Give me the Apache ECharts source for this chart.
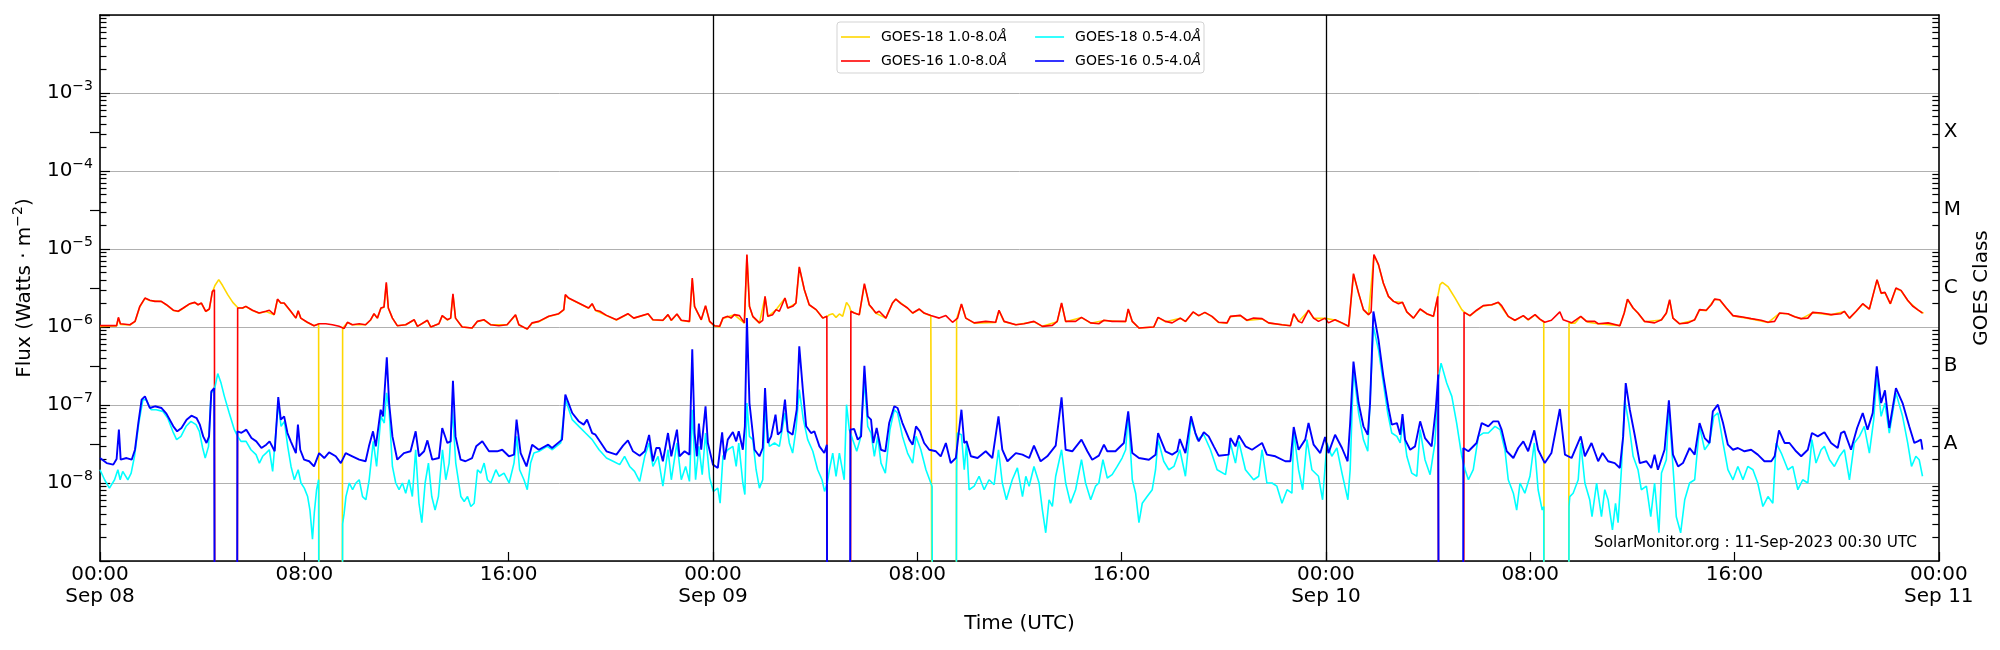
<!DOCTYPE html>
<html><head><meta charset="utf-8">
<script src="https://cdn.jsdelivr.net/npm/echarts/dist/echarts.min.js"></script>
<style>html,body{margin:0;padding:0;background:#fff}#c{width:2000px;height:650px}</style>
</head><body><div id="c"></div>
<script>
// ---- tick labels / categories ----
const dayLabels = ['Sep 08', 'Sep 09', 'Sep 10', 'Sep 11'];
const dayBoundaries = [24, 48];
const classLabels = ['A', 'B', 'C', 'M', 'X'];
const classExponents = [-7.5, -6.5, -5.5, -4.5, -3.5];
const seriesNames = ['GOES-18 1.0-8.0Å', 'GOES-16 1.0-8.0Å', 'GOES-18 0.5-4.0Å', 'GOES-16 0.5-4.0Å'];
// units of the value columns below (0 = data dropout)
const LONG_UNIT = 1e-6, SHORT_UNIT = 1e-8;

// [hours since Sep 08 00:00 UTC, flux / LONG_UNIT]
const g18Long = [[0,1.02],[0.65,1.03],[0.72,1.3],[0.8,1.08],[1.17,1.06],[1.37,1.17],[1.56,1.82],[1.76,2.33],[1.95,2.18],[2.4,2.12],[2.6,1.92],[2.87,1.63],[3.06,1.58],[3.26,1.74],[3.52,1.98],[3.71,2.06],[3.84,1.92],[3.97,2.02],[4.14,1.58],[4.28,1.69],[4.4,2.8],[4.5,3.4],[4.65,4.05],[4.8,3.4],[5.0,2.6],[5.2,2.07],[5.39,1.78],[5.58,1.74],[5.71,1.83],[5.97,1.63],[6.23,1.5],[6.5,1.58],[6.82,1.43],[6.95,2.25],[7.08,2.02],[7.21,2.02],[7.47,1.58],[7.67,1.3],[7.76,1.6],[7.86,1.3],[8.12,1.14],[8.38,1.04],[8.56,1.09],[8.58,0],[9.48,0],[9.5,0.96],[9.69,1.14],[9.88,1.07],[10.4,1.07],[10.6,1.23],[10.73,1.47],[10.86,1.3],[11.0,1.74],[11.12,1.79],[11.21,3.6],[11.29,1.74],[11.45,1.3],[11.64,1.04],[11.97,1.07],[12.3,1.23],[12.43,1.02],[12.82,1.21],[12.95,1.0],[13.27,1.1],[13.4,1.39],[13.6,1.23],[13.73,1.3],[13.82,2.6],[13.92,1.3],[14.18,1.0],[14.57,0.97],[14.77,1.17],[15.03,1.23],[15.29,1.07],[15.94,1.07],[16.27,1.42],[16.4,1.07],[16.73,0.94],[16.92,1.12],[17.18,1.17],[17.57,1.36],[17.96,1.47],[18.16,1.66],[18.22,2.55],[18.35,2.33],[18.74,2.02],[19.13,1.74],[19.27,1.97],[19.4,1.63],[19.83,1.4],[20.22,1.23],[20.67,1.47],[20.9,1.3],[21.46,1.47],[21.65,1.23],[22.04,1.21],[22.24,1.43],[22.37,1.21],[22.59,1.46],[22.76,1.21],[23.08,1.17],[23.19,4.1],[23.28,1.82],[23.41,1.5],[23.54,1.23],[23.71,1.86],[23.87,1.17],[24.06,1.03],[24.26,1.0],[24.39,1.29],[24.84,1.43],[25.23,1.12],[25.33,8.3],[25.43,1.82],[25.56,1.36],[25.82,1.12],[26.04,2.44],[26.15,1.36],[26.47,1.66],[26.82,2.33],[26.93,1.74],[27.25,2.02],[27.38,5.8],[27.58,2.98],[27.77,1.92],[28.04,1.66],[28.3,1.3],[28.48,1.37],[28.56,1.44],[28.69,1.48],[28.82,1.33],[28.95,1.47],[29.08,1.37],[29.23,2.07],[29.34,1.84],[29.4,1.59],[29.73,1.43],[29.93,3.5],[30.12,1.92],[30.38,1.5],[30.77,1.3],[31.03,2.02],[31.16,2.27],[31.62,1.74],[31.82,1.5],[32.08,1.69],[32.27,1.5],[32.53,1.39],[32.58,1.38],[32.6,0],[33.52,0],[33.54,1.28],[33.73,1.95],[33.9,1.3],[34.23,1.12],[35.07,1.14],[35.2,1.62],[35.4,1.17],[35.86,1.07],[36.57,1.17],[36.9,1.02],[37.48,1.17],[37.65,2.0],[37.81,1.17],[38.43,1.32],[38.79,1.12],[39.31,1.21],[40.16,1.17],[40.26,1.68],[40.42,1.17],[40.68,0.97],[41.26,1.0],[41.43,1.32],[41.72,1.17],[42.3,1.29],[42.5,1.17],[42.8,1.55],[43.02,1.39],[43.26,1.53],[43.54,1.36],[43.8,1.14],[44.13,1.12],[44.26,1.36],[44.65,1.4],[44.91,1.21],[45.5,1.27],[45.76,1.12],[46.61,1.04],[46.74,1.46],[46.93,1.17],[47.32,1.62],[47.52,1.29],[47.97,1.29],[48.36,1.23],[48.89,1.02],[49.08,4.7],[49.28,2.7],[49.47,1.66],[49.67,1.43],[49.88,8.3],[50.06,6.2],[50.25,3.62],[50.45,2.45],[50.65,2.12],[51.0,2.06],[51.17,1.55],[51.43,1.3],[51.69,1.69],[51.95,1.47],[52.21,1.36],[52.38,2.45],[52.47,3.49],[52.56,3.73],[52.79,3.26],[53.06,2.35],[53.32,1.67],[53.41,1.56],[53.64,1.39],[53.9,1.62],[54.16,1.86],[54.49,1.92],[54.75,2.06],[55.14,1.36],[55.4,1.21],[55.73,1.39],[55.92,1.23],[56.19,1.43],[56.38,1.25],[56.53,1.16],[56.55,0],[57.5,0],[57.52,1.13],[57.75,1.12],[57.98,1.36],[58.27,1.15],[58.66,1.1],[59.51,1.04],[59.68,1.5],[59.81,2.25],[60.03,1.74],[60.22,1.5],[60.48,1.17],[61.14,1.23],[61.33,1.5],[61.46,2.2],[61.59,1.3],[61.85,1.1],[62.44,1.23],[62.63,1.66],[62.89,1.62],[63.22,2.27],[63.42,2.22],[63.68,1.74],[63.94,1.39],[64.65,1.27],[65.31,1.14],[65.76,1.5],[66.09,1.47],[66.61,1.27],[67.06,1.53],[67.78,1.43],[68.3,1.58],[68.5,1.29],[68.76,1.58],[69.02,1.97],[69.28,1.69],[69.41,2.45],[69.58,4.0],[69.74,2.7],[69.89,2.75],[70.1,1.97],[70.32,3.1],[70.52,2.92],[70.78,2.18],[71.17,1.66],[71.4,1.5]];

const g16Long = [[0,1.04],[0.65,1.04],[0.72,1.33],[0.8,1.1],[1.17,1.07],[1.37,1.18],[1.56,1.84],[1.76,2.35],[1.95,2.2],[2.15,2.13],[2.4,2.13],[2.6,1.93],[2.87,1.64],[3.06,1.59],[3.26,1.75],[3.52,1.99],[3.71,2.07],[3.84,1.93],[3.97,2.03],[4.14,1.59],[4.28,1.7],[4.4,2.87],[4.48,3.0],[4.5,0],[5.37,0],[5.39,1.75],[5.58,1.75],[5.71,1.84],[5.97,1.64],[6.23,1.51],[6.5,1.59],[6.63,1.64],[6.82,1.44],[6.95,2.28],[7.08,2.03],[7.21,2.03],[7.47,1.59],[7.67,1.3],[7.76,1.62],[7.86,1.3],[8.12,1.15],[8.38,1.04],[8.58,1.1],[8.84,1.1],[9.1,1.07],[9.36,1.02],[9.56,0.96],[9.69,1.15],[9.88,1.07],[10.15,1.1],[10.4,1.07],[10.6,1.24],[10.73,1.48],[10.86,1.3],[11.0,1.75],[11.12,1.8],[11.21,3.73],[11.29,1.75],[11.45,1.3],[11.64,1.04],[11.97,1.07],[12.3,1.24],[12.43,1.02],[12.82,1.22],[12.95,1.0],[13.27,1.1],[13.4,1.4],[13.6,1.24],[13.73,1.3],[13.82,2.67],[13.92,1.3],[14.18,1.0],[14.57,0.97],[14.77,1.18],[15.03,1.24],[15.29,1.07],[15.62,1.04],[15.94,1.07],[16.27,1.44],[16.4,1.07],[16.73,0.94],[16.92,1.13],[17.18,1.18],[17.57,1.37],[17.96,1.48],[18.16,1.67],[18.22,2.6],[18.35,2.35],[18.74,2.03],[19.13,1.75],[19.27,1.99],[19.4,1.64],[19.57,1.59],[19.83,1.41],[20.22,1.24],[20.67,1.48],[20.9,1.3],[21.46,1.48],[21.65,1.24],[22.04,1.22],[22.24,1.44],[22.37,1.22],[22.59,1.47],[22.76,1.22],[23.08,1.18],[23.19,4.25],[23.28,1.84],[23.41,1.51],[23.54,1.24],[23.71,1.88],[23.87,1.18],[24.06,1.04],[24.26,1.02],[24.39,1.3],[24.58,1.37],[24.71,1.3],[24.84,1.44],[25.04,1.4],[25.23,1.13],[25.33,8.5],[25.43,1.84],[25.56,1.37],[25.82,1.13],[25.95,1.22],[26.04,2.47],[26.15,1.37],[26.34,1.44],[26.47,1.67],[26.6,1.59],[26.82,2.35],[26.93,1.75],[27.12,1.84],[27.25,2.03],[27.38,5.9],[27.58,3.0],[27.77,1.93],[28.04,1.67],[28.3,1.3],[28.46,1.37],[28.48,0],[29.38,0],[29.4,1.59],[29.53,1.51],[29.73,1.44],[29.93,3.6],[30.12,1.93],[30.25,1.72],[30.38,1.51],[30.51,1.59],[30.77,1.3],[31.03,2.03],[31.16,2.28],[31.36,1.99],[31.62,1.75],[31.82,1.51],[32.08,1.7],[32.27,1.51],[32.53,1.4],[32.86,1.3],[33.12,1.4],[33.38,1.15],[33.58,1.3],[33.73,1.97],[33.9,1.3],[34.23,1.13],[34.68,1.18],[35.07,1.15],[35.2,1.64],[35.4,1.18],[35.86,1.07],[36.18,1.1],[36.57,1.18],[36.9,1.02],[37.29,1.05],[37.48,1.18],[37.65,2.03],[37.81,1.18],[38.2,1.18],[38.43,1.33],[38.79,1.13],[39.11,1.1],[39.31,1.22],[39.63,1.18],[40.16,1.18],[40.26,1.7],[40.42,1.18],[40.68,0.97],[41.26,1.0],[41.43,1.33],[41.72,1.18],[41.98,1.13],[42.3,1.3],[42.5,1.18],[42.8,1.56],[43.02,1.4],[43.26,1.54],[43.54,1.37],[43.8,1.15],[44.13,1.13],[44.26,1.37],[44.65,1.41],[44.91,1.22],[45.17,1.3],[45.5,1.28],[45.76,1.13],[46.28,1.07],[46.61,1.04],[46.74,1.48],[46.93,1.18],[47.06,1.13],[47.32,1.64],[47.52,1.3],[47.71,1.18],[47.97,1.3],[48.1,1.13],[48.36,1.24],[48.63,1.13],[48.89,1.02],[49.08,4.83],[49.28,2.72],[49.47,1.67],[49.67,1.44],[49.77,1.56],[49.88,8.5],[50.06,6.3],[50.25,3.66],[50.45,2.47],[50.65,2.13],[50.84,1.99],[51.0,2.07],[51.17,1.56],[51.43,1.3],[51.69,1.7],[51.95,1.48],[52.21,1.37],[52.38,2.47],[52.42,2.6],[52.43,0],[53.39,0],[53.41,1.54],[53.64,1.4],[53.9,1.64],[54.16,1.88],[54.49,1.93],[54.75,2.07],[54.88,1.88],[55.14,1.37],[55.4,1.22],[55.73,1.4],[55.92,1.24],[56.19,1.44],[56.38,1.26],[56.57,1.15],[56.83,1.22],[57.16,1.56],[57.29,1.24],[57.62,1.13],[57.98,1.37],[58.2,1.18],[58.53,1.18],[58.66,1.1],[59.05,1.13],[59.51,1.04],[59.68,1.51],[59.81,2.28],[60.03,1.75],[60.22,1.51],[60.48,1.18],[60.87,1.13],[61.14,1.24],[61.33,1.51],[61.46,2.24],[61.59,1.3],[61.85,1.1],[62.18,1.13],[62.44,1.24],[62.63,1.67],[62.89,1.64],[63.09,1.93],[63.22,2.28],[63.42,2.24],[63.68,1.75],[63.94,1.4],[64.26,1.35],[64.65,1.28],[65.04,1.22],[65.31,1.15],[65.57,1.18],[65.76,1.51],[66.09,1.48],[66.35,1.35],[66.61,1.28],[66.87,1.3],[67.06,1.54],[67.39,1.51],[67.78,1.44],[68.17,1.48],[68.3,1.59],[68.5,1.3],[68.76,1.59],[69.02,1.99],[69.28,1.7],[69.41,2.47],[69.58,4.05],[69.74,2.72],[69.89,2.78],[70.1,1.99],[70.32,3.16],[70.52,2.95],[70.78,2.2],[70.97,1.86],[71.17,1.67],[71.36,1.51]];

// [hours, flux / SHORT_UNIT]
const g18Short = [[0,1.48],[0.18,1.1],[0.37,0.86],[0.57,1.1],[0.7,1.48],[0.79,1.1],[0.89,1.41],[1.09,1.1],[1.22,1.34],[1.35,2.2],[1.52,5.87],[1.68,11.7],[1.8,11.7],[2.0,8.7],[2.2,8.7],[2.46,8.28],[2.65,6.81],[2.85,4.6],[3.0,3.6],[3.17,3.96],[3.37,5.33],[3.56,6.17],[3.76,5.6],[3.89,4.6],[4.02,2.81],[4.12,2.09],[4.25,2.95],[4.35,14.3],[4.48,15.7],[4.61,25.3],[4.74,19.1],[4.87,12.9],[5.06,7.9],[5.26,4.83],[5.39,3.96],[5.52,3.42],[5.72,3.42],[5.91,2.67],[6.11,2.31],[6.24,1.8],[6.37,2.2],[6.5,2.42],[6.63,2.67],[6.76,1.41],[6.98,10.6],[7.09,5.33],[7.22,6.17],[7.35,2.95],[7.48,1.63],[7.61,1.1],[7.76,1.48],[7.87,1.0],[8.0,0.86],[8.13,0.67],[8.22,0.45],[8.32,0.19],[8.39,0.41],[8.48,0.82],[8.56,1.1],[8.58,0],[9.48,0],[9.5,0.3],[9.56,0.41],[9.63,0.67],[9.76,1.0],[9.89,0.82],[10.02,1.0],[10.15,1.1],[10.28,0.67],[10.41,0.61],[10.54,1.1],[10.7,3.42],[10.83,1.63],[11.0,7.16],[11.13,5.87],[11.22,14.3],[11.32,8.7],[11.45,1.63],[11.58,1.0],[11.71,0.82],[11.84,1.0],[11.97,0.74],[12.1,1.1],[12.23,0.67],[12.36,2.67],[12.49,0.55],[12.6,0.31],[12.73,1.0],[12.86,1.8],[12.99,0.67],[13.12,0.45],[13.25,0.67],[13.41,2.67],[13.54,1.1],[13.67,1.8],[13.8,8.7],[13.93,1.8],[14.13,0.67],[14.26,0.58],[14.39,0.67],[14.52,0.5],[14.65,0.55],[14.78,1.48],[14.91,1.34],[15.04,1.8],[15.17,1.1],[15.3,1.0],[15.5,1.48],[15.63,1.22],[15.82,1.34],[16.02,1.0],[16.21,1.8],[16.32,3.96],[16.43,1.48],[16.6,1.1],[16.73,0.82],[16.86,1.8],[16.99,2.42],[17.19,2.55],[17.51,2.95],[17.71,2.67],[18.04,3.26],[18.23,11.7],[18.49,6.49],[18.75,5.33],[19.01,4.37],[19.27,3.6],[19.54,2.67],[19.83,2.09],[20.09,1.9],[20.35,1.72],[20.54,2.2],[20.74,1.63],[20.93,1.41],[21.13,1.05],[21.33,2.2],[21.5,3.26],[21.65,1.63],[21.85,2.2],[22.04,0.91],[22.24,2.67],[22.37,1.1],[22.59,3.26],[22.76,1.1],[22.93,1.63],[23.08,1.05],[23.19,8.7],[23.32,1.1],[23.45,2.95],[23.58,1.28],[23.71,4.37],[23.87,1.16],[24.02,0.78],[24.19,0.86],[24.28,0.55],[24.39,2.2],[24.58,2.67],[24.78,2.95],[24.91,1.63],[25.01,3.26],[25.17,1.0],[25.25,0.71],[25.33,10.6],[25.43,3.96],[25.56,3.6],[25.69,1.48],[25.82,0.86],[25.95,1.1],[26.04,8.7],[26.21,2.95],[26.41,3.26],[26.6,2.95],[26.82,7.9],[26.99,3.26],[27.12,2.42],[27.25,4.83],[27.38,15.7],[27.54,6.49],[27.71,3.6],[27.91,2.55],[28.1,1.48],[28.27,1.1],[28.37,0.78],[28.48,1.0],[28.56,1.48],[28.69,2.42],[28.82,1.22],[28.95,2.42],[29.14,1.1],[29.23,10.1],[29.34,4.83],[29.47,3.6],[29.63,2.55],[29.76,3.6],[29.93,20.1],[30.06,5.33],[30.19,4.37],[30.32,2.2],[30.45,3.96],[30.58,1.8],[30.75,1.34],[30.93,4.83],[31.1,8.7],[31.23,7.9],[31.42,3.96],[31.62,2.42],[31.82,1.8],[31.95,3.96],[32.14,2.67],[32.34,1.48],[32.53,1.0],[32.58,0.9],[32.6,0],[33.52,0],[33.54,1.5],[33.57,4.37],[33.73,4.16],[33.84,1.48],[33.93,3.26],[34.03,0.82],[34.23,0.91],[34.42,1.22],[34.62,0.82],[34.81,1.1],[35.01,0.95],[35.18,2.67],[35.33,1.0],[35.49,0.61],[35.72,1.1],[35.92,1.56],[36.12,0.67],[36.25,1.22],[36.38,0.91],[36.57,1.63],[36.77,1.0],[36.9,0.45],[37.03,0.23],[37.16,0.61],[37.29,0.5],[37.42,1.22],[37.65,2.67],[37.81,1.0],[38.0,0.55],[38.2,0.82],[38.43,1.99],[38.59,1.0],[38.79,0.61],[38.98,0.91],[39.11,1.0],[39.27,1.99],[39.44,1.16],[39.63,1.28],[39.83,1.63],[40.02,2.09],[40.16,2.67],[40.26,7.9],[40.42,1.1],[40.55,0.74],[40.68,0.31],[40.81,0.55],[41.0,0.67],[41.2,0.82],[41.33,1.48],[41.43,3.6],[41.65,1.9],[41.85,1.48],[42.05,1.63],[42.28,2.67],[42.5,1.22],[42.72,6.49],[42.96,3.6],[43.22,4.16],[43.48,2.67],[43.74,1.48],[44.07,1.28],[44.26,3.26],[44.46,1.8],[44.59,3.42],[44.85,1.48],[45.17,1.1],[45.37,1.22],[45.5,2.67],[45.69,1.0],[45.89,1.0],[46.08,0.91],[46.28,0.55],[46.48,0.82],[46.67,0.74],[46.74,4.6],[46.93,1.48],[47.09,0.82],[47.26,3.6],[47.45,1.48],[47.71,1.22],[47.87,0.61],[48.04,3.26],[48.23,2.2],[48.43,2.81],[48.63,1.34],[48.86,0.61],[48.95,1.48],[49.08,28.3],[49.28,7.9],[49.47,3.6],[49.64,2.55],[49.86,101],[50.06,51],[50.25,19.1],[50.42,7.9],[50.58,4.37],[50.78,3.96],[50.91,3.26],[51.0,5.87],[51.17,2.2],[51.36,1.34],[51.56,1.22],[51.69,4.83],[51.88,1.99],[52.08,1.28],[52.27,3.26],[52.4,21.1],[52.51,34.4],[52.73,19.1],[52.93,12.9],[53.12,5.87],[53.32,2.2],[53.45,1.48],[53.58,1.1],[53.77,1.48],[53.97,3.96],[54.16,4.37],[54.36,4.37],[54.62,5.33],[54.82,4.83],[55.01,2.67],[55.14,1.1],[55.34,0.74],[55.47,0.45],[55.6,1.0],[55.79,0.74],[55.99,1.22],[56.16,3.26],[56.31,0.82],[56.47,0.45],[56.53,0.5],[56.55,0],[57.5,0],[57.52,0.5],[57.55,0.67],[57.68,0.74],[57.88,1.1],[57.98,3.26],[58.14,1.0],[58.33,0.61],[58.42,0.37],[58.6,1.0],[58.79,0.37],[58.92,0.82],[59.05,0.61],[59.22,0.25],[59.34,0.55],[59.44,0.31],[59.57,1.48],[59.7,11.7],[59.86,5.87],[60.03,2.2],[60.22,1.48],[60.35,0.82],[60.55,0.91],[60.72,0.37],[60.87,1.0],[61.04,0.23],[61.14,1.34],[61.33,1.99],[61.43,9.63],[61.59,1.63],[61.72,0.37],[61.89,0.23],[62.05,0.61],[62.24,1.0],[62.44,1.1],[62.63,5.33],[62.83,2.67],[63.02,3.26],[63.19,7.16],[63.35,7.9],[63.55,3.26],[63.74,1.48],[63.94,1.1],[64.13,1.63],[64.33,1.1],[64.52,1.63],[64.72,1.48],[64.91,1.0],[65.11,0.5],[65.31,0.67],[65.5,0.55],[65.63,3.26],[65.83,2.42],[66.09,1.48],[66.28,1.63],[66.48,0.82],[66.67,1.1],[66.87,1.0],[67.03,3.6],[67.19,1.8],[67.39,2.67],[67.52,2.95],[67.72,1.99],[67.91,1.63],[68.11,2.2],[68.3,2.67],[68.5,1.1],[68.69,3.26],[68.89,3.96],[69.08,5.33],[69.28,2.42],[69.45,6.49],[69.57,23.3],[69.74,7.16],[69.89,10.6],[70.06,4.37],[70.32,14.3],[70.58,7.16],[70.78,3.26],[70.93,1.63],[71.1,2.2],[71.23,1.99],[71.36,1.22]];

const g16Short = [[0,2.09],[0.26,1.8],[0.52,1.72],[0.65,2.03],[0.74,4.83],[0.81,1.99],[1.04,2.09],[1.24,1.99],[1.37,2.67],[1.5,5.87],[1.63,11.7],[1.76,12.9],[1.95,9.15],[2.15,9.63],[2.41,9.15],[2.6,7.75],[2.87,5.33],[3.02,4.6],[3.19,5.07],[3.39,6.49],[3.58,7.3],[3.78,6.81],[3.91,5.6],[4.04,3.96],[4.17,3.26],[4.27,3.96],[4.36,15.0],[4.47,16.5],[4.5,0],[5.36,0],[5.38,4.6],[5.54,4.4],[5.73,4.83],[5.93,3.77],[6.12,3.42],[6.32,2.81],[6.51,3.1],[6.64,3.42],[6.84,2.55],[6.98,12.6],[7.08,6.49],[7.21,7.16],[7.34,4.37],[7.47,3.42],[7.67,2.42],[7.75,5.6],[7.84,2.67],[7.99,1.99],[8.19,1.9],[8.38,1.63],[8.58,2.42],[8.78,2.09],[8.97,2.47],[9.23,2.2],[9.43,1.8],[9.62,2.42],[9.88,2.2],[10.15,1.99],[10.4,1.9],[10.53,2.95],[10.69,4.6],[10.8,2.95],[10.99,8.7],[11.08,7.16],[11.23,41],[11.32,10.6],[11.45,3.96],[11.64,1.99],[11.9,2.42],[12.16,2.55],[12.36,4.6],[12.49,2.2],[12.69,2.55],[12.82,3.52],[13.01,1.99],[13.27,2.09],[13.4,5.07],[13.6,3.26],[13.73,3.42],[13.82,20.5],[13.92,3.96],[14.12,1.99],[14.31,1.9],[14.57,2.09],[14.73,2.95],[14.97,3.42],[15.23,2.55],[15.55,2.55],[15.75,2.67],[16.01,2.2],[16.21,2.31],[16.31,6.49],[16.47,2.42],[16.7,1.63],[16.92,3.1],[17.18,2.67],[17.55,3.1],[17.7,2.81],[18.09,3.6],[18.22,13.6],[18.49,7.9],[18.74,6.2],[18.94,5.6],[19.07,6.49],[19.27,4.37],[19.4,4.16],[19.57,3.42],[19.83,2.55],[20.22,2.31],[20.48,3.01],[20.67,3.52],[20.87,2.55],[21.13,2.24],[21.33,2.55],[21.5,4.13],[21.65,1.9],[21.78,2.81],[21.91,2.81],[22.04,1.9],[22.24,4.37],[22.37,2.2],[22.59,4.83],[22.69,2.2],[22.89,2.55],[23.08,2.31],[23.19,52],[23.28,4.37],[23.37,2.2],[23.45,5.77],[23.54,2.67],[23.71,9.63],[23.8,3.26],[24.0,1.72],[24.19,1.56],[24.36,4.47],[24.45,1.99],[24.58,3.6],[24.78,4.51],[24.91,3.42],[25.01,4.6],[25.17,2.67],[25.25,5.33],[25.33,130],[25.43,10.6],[25.63,2.67],[25.82,2.2],[25.95,2.81],[26.04,16.5],[26.15,3.26],[26.28,3.96],[26.45,7.51],[26.54,4.16],[26.67,4.6],[26.82,11.7],[26.93,4.6],[27.12,4.16],[27.28,8.7],[27.38,56.6],[27.52,15.7],[27.65,5.33],[27.84,4.37],[27.97,4.6],[28.17,2.95],[28.36,2.42],[28.46,3.1],[28.48,0],[29.36,0],[29.38,4.83],[29.53,4.93],[29.67,3.6],[29.8,3.96],[29.93,31.9],[30.06,7.16],[30.19,6.49],[30.28,3.26],[30.41,5.07],[30.58,2.67],[30.75,2.55],[30.9,5.87],[31.1,9.63],[31.23,9.15],[31.42,5.87],[31.69,3.6],[31.82,3.1],[31.95,5.33],[32.1,4.6],[32.27,3.26],[32.47,2.67],[32.73,2.55],[32.92,2.2],[33.12,3.26],[33.31,1.8],[33.51,2.09],[33.73,8.7],[33.84,3.26],[33.93,3.42],[34.1,2.2],[34.36,2.09],[34.68,2.55],[34.94,2.09],[35.18,7.16],[35.33,2.67],[35.53,1.9],[35.86,2.42],[36.12,2.31],[36.38,2.09],[36.57,3.01],[36.83,1.9],[37.09,2.2],[37.42,3.01],[37.65,12.5],[37.81,2.67],[38.07,2.55],[38.43,3.6],[38.66,2.55],[38.85,1.99],[39.11,2.24],[39.31,3.1],[39.44,2.55],[39.76,2.55],[40.09,3.26],[40.26,8.28],[40.42,2.42],[40.68,2.09],[41.07,1.99],[41.33,2.31],[41.43,4.37],[41.72,2.55],[41.98,2.31],[42.18,2.55],[42.28,3.66],[42.5,2.42],[42.72,7.16],[42.89,4.37],[43.02,3.42],[43.22,4.47],[43.41,3.96],[43.61,2.95],[43.8,2.24],[44.19,2.31],[44.26,3.77],[44.46,2.95],[44.59,4.05],[44.85,2.95],[45.11,2.67],[45.5,3.26],[45.69,2.31],[46.02,2.2],[46.41,1.9],[46.61,1.9],[46.74,5.22],[46.93,2.67],[47.19,3.6],[47.32,5.87],[47.52,3.1],[47.78,2.42],[47.97,3.89],[48.1,2.42],[48.36,4.16],[48.63,2.81],[48.85,1.9],[48.95,5.87],[49.08,36],[49.28,10.6],[49.47,5.33],[49.64,4.16],[49.73,10.6],[49.86,158],[50.06,68.5],[50.25,23.3],[50.45,9.15],[50.58,5.6],[50.78,5.87],[50.91,4.16],[51.0,7.67],[51.1,3.6],[51.3,2.67],[51.49,2.95],[51.69,6.17],[51.88,3.77],[52.14,2.95],[52.3,8.7],[52.4,24.6],[52.42,0],[53.37,0],[53.38,2.81],[53.58,2.55],[53.9,3.26],[54.1,5.87],[54.36,5.33],[54.55,6.17],[54.75,6.17],[54.88,4.83],[55.08,2.55],[55.34,2.09],[55.53,2.81],[55.73,3.42],[55.92,2.55],[56.16,4.73],[56.31,2.67],[56.57,1.8],[56.83,2.42],[57.16,8.89],[57.36,2.31],[57.62,2.09],[57.98,3.96],[58.14,2.2],[58.4,3.26],[58.66,1.9],[58.83,2.42],[59.05,1.9],[59.31,1.8],[59.51,1.56],[59.64,3.96],[59.74,19.1],[59.9,8.7],[60.09,4.16],[60.29,1.8],[60.55,1.9],[60.74,1.56],[60.87,2.31],[61.0,1.48],[61.26,2.67],[61.43,11.5],[61.59,2.31],[61.79,1.63],[61.98,1.8],[62.24,2.81],[62.44,2.31],[62.63,5.87],[62.83,3.77],[63.02,3.26],[63.15,8.28],[63.35,10.1],[63.55,5.87],[63.74,3.1],[63.94,2.67],[64.13,2.81],[64.39,2.55],[64.65,2.67],[64.91,2.31],[65.17,1.9],[65.44,1.9],[65.57,2.2],[65.74,4.73],[65.96,3.26],[66.15,3.26],[66.41,2.55],[66.61,2.2],[66.87,2.67],[67.03,4.37],[67.26,3.96],[67.52,4.47],[67.78,3.26],[68.04,2.81],[68.17,4.37],[68.3,4.6],[68.56,2.67],[68.8,5.07],[69.02,7.9],[69.21,4.83],[69.41,7.9],[69.57,31.3],[69.74,10.6],[69.89,15.4],[70.06,5.07],[70.32,16.5],[70.58,10.6],[70.84,5.33],[71.04,3.26],[71.17,3.42],[71.3,3.6],[71.36,2.67]];

// ---- build ----
const DROPOUT = 1e-12; // fill value for dropouts, falls below the axis
function toSeriesData(pairs, unit) {
  return pairs.map(p => [p[0], p[1] > 0 ? p[1] * unit : DROPOUT]);
}
const minorTickExps = [];
for (let n = -9; n < -2; n++) for (let m = 2; m <= 9; m++) minorTickExps.push(n + Math.log10(m));

const FONT = 'DejaVu Sans';
const BLACK = '#000';
const SPINE = {color: BLACK, width: 1.6};
const TICK = {color: BLACK, width: 1.2};
const pad2 = n => (n < 10 ? '0' : '') + n;

const chart = echarts.init(document.getElementById('c'), null, {renderer: 'canvas'});
const lineCommon = {type: 'line', showSymbol: false, symbol: 'none', clip: true, animation: false, xAxisIndex: 0, yAxisIndex: 0};
chart.setOption({
  animation: false,
  backgroundColor: '#fff',
  textStyle: {fontFamily: FONT},
  title: {
    text: 'SolarMonitor.org : 11-Sep-2023 00:30 UTC',
    right: 83, top: 536, padding: 0,
    textStyle: {fontFamily: FONT, fontSize: 15.3, fontWeight: 'normal', color: BLACK}
  },
  grid: {left: 100, right: 59.5, top: 15, bottom: 89, containLabel: false},
  graphic: [{
    type: 'rect', z: 3, silent: true,
    shape: {x: 837, y: 22, width: 367, height: 51, r: 3},
    style: {fill: 'rgba(255,255,255,0.8)', stroke: '#d3d3d3', lineWidth: 1}
  }],
  legend: [0, 1].map(row => ({
    data: row === 0 ? [seriesNames[0], seriesNames[2]] : [seriesNames[1], seriesNames[3]],
    left: 841, top: row === 0 ? 29 : 53, padding: 0, z: 5,
    orient: 'horizontal', itemGap: 28, itemWidth: 29, itemHeight: 1.6, icon: 'rect',
    selectedMode: false,
    formatter: name => name.replace('Å', '{i|Å}'),
    textStyle: {fontFamily: FONT, fontSize: 14, color: BLACK, lineHeight: 16, padding: [0, 0, 0, 6],
      rich: {i: {fontFamily: FONT, fontSize: 14, fontStyle: 'italic', color: BLACK, lineHeight: 16}}}
  })),
  xAxis: [
    {
      type: 'value', min: 0, max: 72, interval: 8, position: 'bottom',
      axisLine: {show: true, onZero: false, lineStyle: SPINE},
      axisTick: {show: true, inside: true, length: 9, lineStyle: TICK},
      axisLabel: {
        color: BLACK, fontFamily: FONT, fontSize: 20, lineHeight: 22, margin: 3,
        showMinLabel: true, showMaxLabel: true,
        formatter: v => {
          const h = Math.round(v) % 24, d = Math.floor(Math.round(v) / 24);
          const t = pad2(h) + ':00';
          return h === 0 ? t + '\n' + dayLabels[d] : t;
        }
      },
      splitLine: {show: false},
      name: 'Time (UTC)', nameLocation: 'middle', nameGap: 53,
      nameTextStyle: {fontFamily: FONT, fontSize: 20, color: BLACK}
    },
    {
      type: 'value', min: 0, max: 72, position: 'top',
      axisLine: {show: true, onZero: false, lineStyle: SPINE},
      axisTick: {show: false}, axisLabel: {show: false}, splitLine: {show: false}
    }
  ],
  yAxis: [
    {
      type: 'log', logBase: 10, min: 1e-9, max: 1e-2, splitNumber: 7, position: 'left',
      axisLine: {show: true, onZero: false, lineStyle: SPINE},
      axisTick: {show: true, inside: true, length: 10, lineStyle: TICK},
      minorTick: {show: false},
      axisLabel: {
        margin: 7, color: BLACK,
        formatter: v => {
          const e = Math.round(Math.log10(v));
          return (e <= -9 || e >= -2) ? '' : '{b|10}{s|−' + Math.abs(e) + '}';
        },
        rich: {
          b: {fontFamily: FONT, fontSize: 20, lineHeight: 28, color: BLACK},
          s: {fontFamily: FONT, fontSize: 14, lineHeight: 14, verticalAlign: 'top', color: BLACK}
        }
      },
      splitLine: {show: true, lineStyle: {color: '#b0b0b0', width: 1}},
      name: '{n|Flux (Watts · m}{s|−2}{n|)}', nameLocation: 'middle', nameGap: 61, nameRotate: 90,
      nameTextStyle: {
        color: BLACK,
        rich: {
          n: {fontFamily: FONT, fontSize: 20, lineHeight: 28, color: BLACK},
          s: {fontFamily: FONT, fontSize: 14, lineHeight: 14, verticalAlign: 'top', color: BLACK}
        }
      }
    },
    {
      type: 'value', min: -9, max: -2, position: 'left',
      axisLine: {show: false},
      axisTick: {show: true, inside: true, length: 6.5, customValues: minorTickExps, lineStyle: TICK},
      axisLabel: {show: false}, splitLine: {show: false}
    },
    {
      type: 'value', min: -9, max: -2, position: 'right',
      axisLine: {show: true, onZero: false, lineStyle: SPINE},
      axisTick: {show: true, inside: true, length: 6.5, customValues: minorTickExps, lineStyle: TICK},
      axisLabel: {show: false}, splitLine: {show: false}
    },
    {
      type: 'value', min: -9, max: -2, position: 'right',
      axisLine: {show: false},
      axisTick: {show: true, inside: true, length: 10, customValues: classExponents, lineStyle: TICK},
      axisLabel: {
        show: true, customValues: classExponents, margin: 5, color: BLACK, fontFamily: FONT, fontSize: 20,
        formatter: v => {
          const i = classExponents.findIndex(c => Math.abs(c - v) < 1e-6);
          return i >= 0 ? classLabels[i] : '';
        }
      },
      splitLine: {show: false},
      name: 'GOES Class', nameLocation: 'middle', nameGap: 22.5, nameRotate: 90,
      nameTextStyle: {fontFamily: FONT, fontSize: 20, color: BLACK}
    }
  ],
  series: [
    Object.assign({}, lineCommon, {name: seriesNames[0], data: toSeriesData(g18Long, LONG_UNIT),
      color: '#ffd700', lineStyle: {color: '#ffd700', width: 1.6}}),
    Object.assign({}, lineCommon, {name: seriesNames[1], data: toSeriesData(g16Long, LONG_UNIT),
      color: '#ff0000', lineStyle: {color: '#ff0000', width: 1.6}}),
    Object.assign({}, lineCommon, {name: seriesNames[2], data: toSeriesData(g18Short, SHORT_UNIT),
      color: '#00ffff', lineStyle: {color: '#00ffff', width: 1.6}}),
    Object.assign({}, lineCommon, {name: seriesNames[3], data: toSeriesData(g16Short, SHORT_UNIT),
      color: '#0000ff', lineStyle: {color: '#0000ff', width: 1.9},
      markLine: {
        silent: true, symbol: 'none', animation: false,
        label: {show: false},
        lineStyle: {color: BLACK, width: 1.3, type: 'solid'},
        data: dayBoundaries.map(h => ({xAxis: h}))
      }})
  ]
});
</script>
</body></html>
